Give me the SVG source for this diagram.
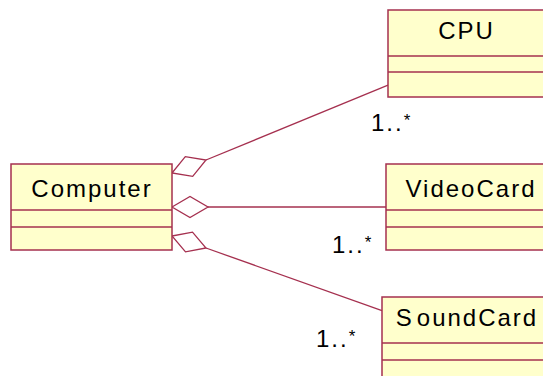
<svg xmlns="http://www.w3.org/2000/svg" width="543" height="376" viewBox="0 0 543 376">
<style>
.box{fill:#ffffcc;stroke:#a5304f;stroke-width:1.5}
.div{stroke:#a5304f;stroke-width:1.5;fill:none}
.conn{stroke:#a5304f;stroke-width:1.3;fill:none}
.dia{fill:#ffffff;stroke:#a5304f;stroke-width:1.3}
.name{font-family:"Liberation Sans",Arial,sans-serif;font-size:24px;letter-spacing:2px;fill:#000;text-anchor:middle}
.mult{font-family:"Liberation Sans",Arial,sans-serif;font-size:24px;letter-spacing:2px;fill:#000}
.star{font-size:17px}
</style>
<rect width="543" height="376" fill="#ffffff"/>
<g id="connectors">
<line class="conn" x1="206" y1="160" x2="388" y2="85.2"/>
<polygon class="dia" points="172,173 185.3,156.7 206,160 192.7,176.3"/>
<line class="conn" x1="208" y1="207" x2="386" y2="207"/>
<polygon class="dia" points="172,207 190,196.5 208,207 190,217.5"/>
<line class="conn" x1="206" y1="248" x2="382" y2="310.7"/>
<polygon class="dia" points="172,236 192.5,232.1 206,248 185.5,251.9"/>
<text class="mult" x="371" y="131">1..<tspan class="star" dy="-5">*</tspan></text>
<text class="mult" x="332" y="252.5">1..<tspan class="star" dy="-5">*</tspan></text>
<text class="mult" x="316" y="346.5">1..<tspan class="star" dy="-5">*</tspan></text>
</g>
<g id="Computer">
<rect class="box" x="11" y="164" width="161" height="86"/>
<line class="div" x1="11" y1="210" x2="172" y2="210"/>
<line class="div" x1="11" y1="227" x2="172" y2="227"/>
<text class="name" x="92" y="196.5">Computer</text>
</g>
<g id="CPU">
<rect class="box" x="388" y="10" width="180" height="87"/>
<line class="div" x1="388" y1="56" x2="568" y2="56"/>
<line class="div" x1="388" y1="72" x2="568" y2="72"/>
<text class="name" x="466.5" y="39">CPU</text>
</g>
<g id="VideoCard">
<rect class="box" x="386" y="164" width="180" height="86"/>
<line class="div" x1="386" y1="210" x2="566" y2="210"/>
<line class="div" x1="386" y1="227" x2="566" y2="227"/>
<text class="name" x="471" y="197">VideoCard</text>
</g>
<g id="SoundCard">
<rect class="box" x="382" y="297" width="180" height="100"/>
<line class="div" x1="382" y1="343" x2="562" y2="343"/>
<line class="div" x1="382" y1="360" x2="562" y2="360"/>
<text class="name" x="467" y="326">S<tspan dx="3">oundCard</tspan></text>
</g>
</svg>
